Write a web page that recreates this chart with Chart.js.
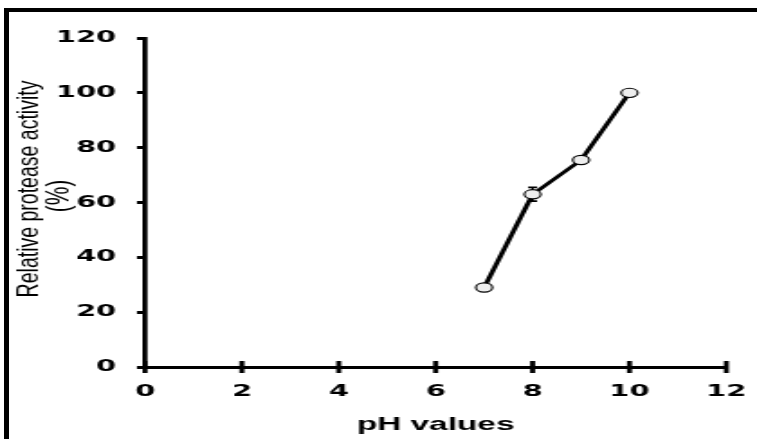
<!DOCTYPE html>
<html>
<head>
<meta charset="utf-8">
<script src="https://cdn.jsdelivr.net/npm/chart.js@4.4.0/dist/chart.umd.min.js"></script>
<style>
    html, body { margin: 0; padding: 0; background: #fff; }
    #wrap { position: relative; width: 757px; height: 439px; overflow: hidden; }
    #frame { position: absolute; left: 4px; top: 8px; right: -10px; bottom: -10px; border-top: 4px solid #000; border-left: 5px solid #000; }
    #chart { position: absolute; left: 0; top: 0; }
</style>
</head>
<body>
<div id="wrap">
    <div id="frame"></div>
    <!-- канвас рисуется узким и растягивается по ширине, как в исходной картинке -->
    <canvas id="chart" width="420" height="439" style="width:757px;height:439px"></canvas>
</div>
<script>
// Данные
const phValues = [7, 8, 9, 10];
const activity = [29, 63, 75.5, 100];
const activityErr = [0, 2.5, 0, 0];
const xTicks = [0, 2, 4, 6, 8, 10, 12];
const yTicks = [0, 20, 40, 60, 80, 100, 120];
const xTitle = 'pH values';
const yTitle = ['Relative protease activity', '(%)'];

const SX = 757 / 420; // горизонтальное растяжение канваса
const tickFont = { family: '"DejaVu Sans", sans-serif', weight: 'bold', size: 16 };

// Планки ошибок, тики через ось X и подпись оси Y
const extras = {
    id: 'extras',
    beforeDatasetsDraw(chart) {
        const { ctx, scales: { x, y } } = chart;
        ctx.save();
        ctx.strokeStyle = '#000';
        phValues.forEach((v, i) => {
            const e = activityErr[i];
            if (!e) return;
            const px = x.getPixelForValue(v);
            const top = y.getPixelForValue(activity[i] + e);
            const bot = y.getPixelForValue(activity[i] - e);
            ctx.lineWidth = 1.2;
            ctx.beginPath();
            ctx.moveTo(px, top); ctx.lineTo(px, bot);
            ctx.stroke();
            ctx.lineWidth = 1.6;
            ctx.beginPath();
            ctx.moveTo(px - 2.5, top); ctx.lineTo(px + 2.5, top);
            ctx.moveTo(px - 2.5, bot); ctx.lineTo(px + 2.5, bot);
            ctx.stroke();
        });
        ctx.restore();
    },
    afterDraw(chart) {
        const { ctx, scales: { x, y } } = chart;
        ctx.save();
        // тики оси X пересекают ось
        const y0 = y.getPixelForValue(0);
        ctx.strokeStyle = '#000';
        ctx.lineWidth = 5 / SX;
        ctx.beginPath();
        xTicks.forEach(v => {
            const px = x.getPixelForValue(v);
            ctx.moveTo(px, y0 - 6);
            ctx.lineTo(px, y0 + 6);
        });
        ctx.stroke();

        // подпись оси Y (две строки)
        ctx.fillStyle = '#000';
        ctx.textAlign = 'center';
        ctx.textBaseline = 'middle';
        const pos = [[30 / SX, 189, 19.5], [60 / SX, 196, 21]];
        yTitle.forEach((t, i) => {
            ctx.save();
            ctx.font = pos[i][2] + 'px "Liberation Sans", Arial, sans-serif';
            ctx.translate(pos[i][0], pos[i][1]);
            ctx.rotate(-Math.PI / 2);
            ctx.scale(1, 0.85);
            ctx.fillText(t, 0, 0);
            ctx.restore();
        });
        ctx.restore();
    }
};

const ctx = document.getElementById('chart').getContext('2d');
const chart = new Chart(ctx, {
    type: 'line',
    data: {
        datasets: [{
            data: phValues.map((v, i) => ({ x: v, y: activity[i] })),
            borderColor: '#000',
            borderWidth: 2.8,
            tension: 0,
            fill: false,
            pointRadius: 4.6,
            pointBorderWidth: 1.1,
            pointBackgroundColor: '#eeeeee',
            pointBorderColor: '#000',
        }]
    },
    options: {
        responsive: false,
        animation: false,
        layout: { padding: { left: 0, right: 17, top: 38, bottom: 0 } },
        plugins: {
            legend: { display: false },
            tooltip: { enabled: false }
        },
        scales: {
            x: {
                type: 'linear',
                min: 0,
                max: 12,
                afterBuildTicks: (s) => { s.ticks = xTicks.map(v => ({ value: v })); },
                afterFit: (s) => { s.height = 72; s.paddingLeft = 0; s.paddingRight = 0; },
                border: { color: '#000', width: 3 },
                grid: { drawOnChartArea: false, drawTicks: false },
                ticks: { color: '#000', font: tickFont, padding: 15, maxRotation: 0 },
                title: {
                    display: true,
                    text: xTitle,
                    color: '#000',
                    font: { family: '"Liberation Sans", Arial, sans-serif', weight: 'bold', size: 18.5 },
                    padding: { top: 0, bottom: 3 }
                }
            },
            y: {
                min: 0,
                max: 120,
                afterBuildTicks: (s) => { s.ticks = yTicks.map(v => ({ value: v })); },
                afterFit: (s) => { s.width = 145 / SX; },
                border: { color: '#000', width: 2.8 },
                grid: { drawOnChartArea: false, drawTicks: true, tickLength: 4.5, tickWidth: 3, color: '#000' },
                ticks: { color: '#000', font: tickFont, padding: 11.5 }
            }
        }
    },
    plugins: [extras]
});
</script>
</body>
</html>
